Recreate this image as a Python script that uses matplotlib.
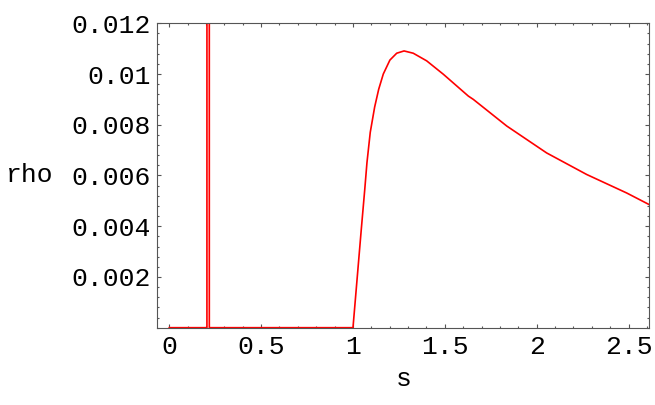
import numpy as np
import matplotlib
matplotlib.use("Agg")
import matplotlib.pyplot as plt
from matplotlib.ticker import MultipleLocator, FixedLocator, FixedFormatter

# values
s_vals = [0.0, 0.205, 0.2115, 0.218, 1.0, 1.045, 1.064, 1.076, 1.094, 1.118,
          1.14, 1.165, 1.201, 1.238, 1.278, 1.328, 1.401, 1.492, 1.628,
          1.655, 1.837, 2.054, 2.272, 2.49, 2.613]
rho_vals = [0.0, 0.0, 1.0, 0.0, 0.0, 0.00386, 0.00544, 0.0065, 0.0077, 0.0087,
            0.0094, 0.0100, 0.01055, 0.01082, 0.01091, 0.01082, 0.01052, 0.00999, 0.00913,
            0.0090, 0.00795, 0.00689, 0.00604, 0.00531, 0.00485]

x_ticks = [0, 0.5, 1, 1.5, 2, 2.5]
x_tick_labels = ["0", "0.5", "1", "1.5", "2", "2.5"]
y_ticks = [0.002, 0.004, 0.006, 0.008, 0.01, 0.012]
y_tick_labels = ["0.002", "0.004", "0.006", "0.008", "0.01", "0.012"]

FONT = "Liberation Mono"
plt.rcParams['font.family'] = [FONT, 'DejaVu Sans Mono']

fig = plt.figure(figsize=(6.55, 4.05), dpi=100)
ax = fig.add_axes([0.2402, 0.1909, 0.7511, 0.7516])

ax.plot(s_vals, rho_vals, color="#ff0000", lw=1.2)

ax.set_xlim(-0.065, 2.613)
ax.set_ylim(0, 0.012)

ax.xaxis.set_major_locator(FixedLocator(x_ticks))
ax.xaxis.set_major_formatter(FixedFormatter(x_tick_labels))
ax.xaxis.set_minor_locator(MultipleLocator(0.1))
ax.yaxis.set_major_locator(FixedLocator(y_ticks))
ax.yaxis.set_major_formatter(FixedFormatter(y_tick_labels))
ax.yaxis.set_minor_locator(MultipleLocator(0.0004))

ax.tick_params(which="both", direction="in", top=True, right=True,
               color="#555555", width=0.8)
ax.tick_params(which="major", length=3, labelsize=19, pad=5)
ax.tick_params(which="minor", length=1.7)
for sp in ax.spines.values():
    sp.set_color("#555555")
    sp.set_linewidth(0.8)

ax.set_xlabel("s", fontsize=19, labelpad=6)
ax.set_ylabel("rho", fontsize=19, rotation=0, ha="center", va="center")
ax.yaxis.set_label_coords(-0.259, 0.5)

fig.savefig("out.png", dpi=100)
